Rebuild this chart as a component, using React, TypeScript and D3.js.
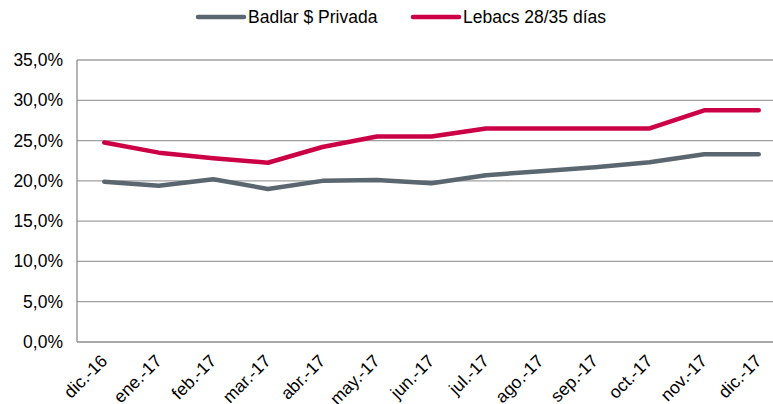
import React, { useRef, useEffect } from "react";
import * as d3 from "d3";

const months = ["dic.-16", "ene.-17", "feb.-17", "mar.-17", "abr.-17", "may.-17", "jun.-17",
    "jul.-17", "ago.-17", "sep.-17", "oct.-17", "nov.-17", "dic.-17"];
const badlar = [19.9, 19.4, 20.2, 19.0, 20.0, 20.1, 19.7, 20.7, 21.2, 21.7, 22.3, 23.3, 23.3];
const lebacs = [24.75, 23.5, 22.8, 22.25, 24.2, 25.5, 25.5, 26.5, 26.5, 26.5, 26.5, 28.75, 28.75];
const yTicks = [0, 5, 10, 15, 20, 25, 30, 35];
const seriesNames = ["Badlar $ Privada", "Lebacs 28/35 días"];
const colors = ["#5b6770", "#cc0044"];

export default function App() {
    const svgRef = useRef(null);
    useEffect(() => {
        const width = 773, height = 404;
        const left = 77, right = 786, top = 60, bottom = 342;
        const svg = d3.select(svgRef.current);
        svg.selectAll("*").remove();
        const font = "Liberation Sans, Arial, sans-serif";
        const fs = 17.5;

        const x = d3.scalePoint()
            .domain(months)
            .range([left, right])
            .padding(0.5);
        const y = d3.scaleLinear().domain([0, 35]).range([bottom, top]);

        // gridlines
        svg.append("g")
            .selectAll("line")
            .data(yTicks.filter(d => d > 0))
            .enter()
            .append("line")
            .attr("x1", left).attr("x2", right)
            .attr("y1", d => y(d)).attr("y2", d => y(d))
            .attr("stroke", "#a0a0a0")
            .attr("stroke-width", 1.3);

        // axes lines
        svg.append("line").attr("x1", left).attr("x2", left).attr("y1", top).attr("y2", bottom)
            .attr("stroke", "#8c8c8c").attr("stroke-width", 1.3);
        svg.append("line").attr("x1", left).attr("x2", right).attr("y1", bottom).attr("y2", bottom)
            .attr("stroke", "#8c8c8c").attr("stroke-width", 1.3);

        // y labels
        svg.append("g")
            .selectAll("text")
            .data(yTicks)
            .enter()
            .append("text")
            .attr("x", 63)
            .attr("y", d => y(d) + 6)
            .attr("text-anchor", "end")
            .attr("font-family", font)
            .attr("font-size", fs)
            .attr("fill", "#000")
            .text(d => d.toFixed(1).replace(".", ",") + "%");

        // x labels
        svg.append("g")
            .selectAll("text")
            .data(months)
            .enter()
            .append("text")
            .attr("transform", d => "translate(" + (x(d) + 4) + "," + 362 + ")rotate(-45)")
            .attr("text-anchor", "end")
            .attr("font-family", font)
            .attr("font-size", fs)
            .attr("fill", "#000")
            .text(d => d);

        const line = d3.line()
            .x((d, i) => x(months[i]))
            .y(d => y(d));

        [badlar, lebacs].forEach((vals, k) => {
            svg.append("path")
                .datum(vals)
                .attr("d", line)
                .attr("fill", "none")
                .attr("stroke", colors[k])
                .attr("stroke-width", 4.5)
                .attr("stroke-linecap", "round")
                .attr("stroke-linejoin", "round");
        });

        // legend
        const legendX = [198, 413];
        seriesNames.forEach((name, k) => {
            svg.append("line")
                .attr("x1", legendX[k]).attr("x2", legendX[k] + 46)
                .attr("y1", 17).attr("y2", 17)
                .attr("stroke", colors[k])
                .attr("stroke-width", 4.5)
                .attr("stroke-linecap", "round");
            svg.append("text")
                .attr("x", legendX[k] + 50)
                .attr("y", 23)
                .attr("font-family", font)
                .attr("font-size", fs)
                .attr("fill", "#000")
                .text(name);
        });
        svg.attr("width", width).attr("height", height);
    }, []);
    return (
        <svg ref={svgRef} width={773} height={404}
            style={{ position: "absolute", left: 0, top: 0, background: "#fff" }} />
    );
}
